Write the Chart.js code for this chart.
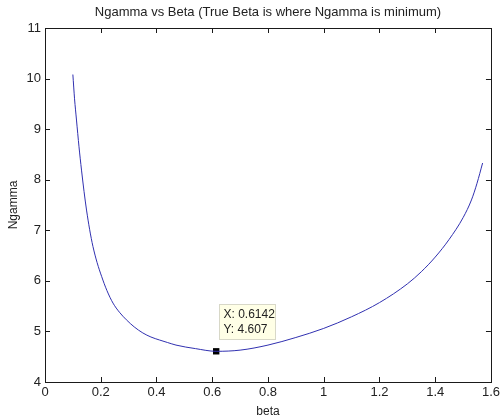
<!DOCTYPE html>
<html>
<head>
<meta charset="utf-8">
<script src="https://cdn.jsdelivr.net/npm/chart.js@4/dist/chart.umd.min.js"></script>
<style>
  html, body { margin: 0; padding: 0; background: #ffffff; }
  #wrap { width: 503px; height: 419px; position: relative; }
</style>
</head>
<body>
<div id="wrap"><canvas id="c" width="503" height="419"></canvas></div>
<script>
// ---- data ----
const betaValues   = [0.1, 0.106, 0.113, 0.122, 0.131, 0.14, 0.149, 0.16, 0.172, 0.187, 0.203, 0.222, 0.244, 0.267, 0.292, 0.32, 0.351, 0.38, 0.411, 0.44, 0.47, 0.54, 0.6142, 0.7, 0.8, 0.9, 1.0, 1.1, 1.2, 1.3, 1.35, 1.4, 1.45, 1.5, 1.53, 1.55, 1.57];
const ngammaValues = [10.08, 9.60, 9.18, 8.65, 8.19, 7.77, 7.40, 7.02, 6.68, 6.36, 6.09, 5.81, 5.56, 5.38, 5.23, 5.09, 4.97, 4.89, 4.83, 4.78, 4.73, 4.66, 4.607, 4.63, 4.73, 4.88, 5.06, 5.29, 5.57, 5.94, 6.18, 6.47, 6.82, 7.25, 7.60, 7.93, 8.33];
const tipBeta = [0.6142];
const tipNgamma = [4.607];
const xTicks = [0, 0.2, 0.4, 0.6, 0.8, 1, 1.2, 1.4, 1.6];
const yTicks = [4, 5, 6, 7, 8, 9, 10, 11];
const titleText = 'Ngamma vs Beta (True Beta is where Ngamma is minimum)';
const xLabel = 'beta';
const yLabel = 'Ngamma';

const FONT = 'Liberation Sans, Arial, Helvetica, sans-serif';

const curve = betaValues.map((b, i) => ({ x: b, y: ngammaValues[i] }));
const tip = tipBeta.map((b, i) => ({ x: b, y: tipNgamma[i] }));

const boxPlugin = {
  id: 'matlabBox',
  afterDatasetsDraw(chart) {
    const { ctx, chartArea: a, scales } = chart;
    ctx.save();
    ctx.strokeStyle = '#1a1a1a';
    ctx.lineWidth = 1;
    ctx.strokeRect(Math.round(a.left) + 0.5, Math.round(a.top) + 0.5,
                   Math.round(a.right - a.left), Math.round(a.bottom - a.top));
    const tl = 5;
    ctx.beginPath();
    xTicks.forEach(v => {
      const px = Math.round(scales.x.getPixelForValue(v)) + 0.5;
      ctx.moveTo(px, a.bottom); ctx.lineTo(px, a.bottom - tl);
      ctx.moveTo(px, a.top); ctx.lineTo(px, a.top + tl);
    });
    yTicks.forEach(v => {
      const py = Math.round(scales.y.getPixelForValue(v)) + 0.5;
      ctx.moveTo(a.left, py); ctx.lineTo(a.left + tl, py);
      ctx.moveTo(a.right, py); ctx.lineTo(a.right - tl, py);
    });
    ctx.stroke();

    // data tip
    const px = scales.x.getPixelForValue(tipBeta[0]);
    const py = scales.y.getPixelForValue(tipNgamma[0]);
    const bx = Math.round(px + 3) + 0.5, by = Math.round(py - 47) + 0.5;
    const bw = 56, bh = 35;
    ctx.fillStyle = '#ffffe6';
    ctx.strokeStyle = '#d8d8c8';
    ctx.fillRect(bx, by, bw, bh);
    ctx.strokeRect(bx, by, bw, bh);
    ctx.fillStyle = '#222';
    ctx.font = '12px ' + FONT;
    ctx.textBaseline = 'middle';
    ctx.textAlign = 'left';
    ctx.fillText('X: ' + tipBeta[0], bx + 4, by + 10);
    ctx.fillText('Y: ' + tipNgamma[0], bx + 4, by + 25);
    ctx.restore();
  }
};

new Chart(document.getElementById('c'), {
  type: 'scatter',
  data: {
    datasets: [
      {
        data: curve,
        showLine: true,
        borderColor: '#3030b0',
        borderWidth: 1,
        pointRadius: 0,
        cubicInterpolationMode: 'monotone',
        fill: false
      },
      {
        data: tip,
        showLine: false,
        pointStyle: 'rect',
        pointRadius: 4.5,
        backgroundColor: '#000',
        borderColor: '#000',
        borderWidth: 0
      }
    ]
  },
  plugins: [boxPlugin],
  options: {
    responsive: false,
    animation: false,
    devicePixelRatio: 1,
    layout: { padding: { left: 0, right: 10, top: 0, bottom: 0 } },
    plugins: {
      legend: { display: false },
      tooltip: { enabled: false },
      title: {
        display: true,
        text: titleText,
        fullSize: false,
        color: '#222',
        font: { family: FONT, size: 13, weight: 'normal' },
        padding: { top: 5, bottom: 7.4 }
      }
    },
    scales: {
      x: {
        type: 'linear',
        min: 0, max: 1.6,
        afterBuildTicks: (s) => { s.ticks = xTicks.map(v => ({ value: v })); },
        afterFit: (s) => { s.height = 37; },
        grid: { display: false, drawTicks: false },
        border: { display: false },
        ticks: {
          color: '#222',
          padding: 3,
          maxRotation: 0,
          autoSkip: false,
          font: { family: FONT, size: 13 },
          callback: (v) => String(v)
        },
        title: {
          display: true,
          text: xLabel,
          color: '#222',
          font: { family: FONT, size: 12 },
          padding: { top: 0, bottom: 0 }
        }
      },
      y: {
        type: 'linear',
        min: 4, max: 11,
        afterBuildTicks: (s) => { s.ticks = yTicks.map(v => ({ value: v })); },
        afterFit: (s) => { s.width = 45; },
        grid: { display: false, drawTicks: false },
        border: { display: false },
        ticks: {
          color: '#222',
          padding: 4,
          autoSkip: false,
          font: { family: FONT, size: 13 },
          callback: (v) => String(v)
        },
        title: {
          display: true,
          text: yLabel,
          color: '#222',
          font: { family: FONT, size: 12 },
          padding: { top: 6, bottom: 2 }
        }
      }
    }
  }
});
</script>
</body>
</html>
